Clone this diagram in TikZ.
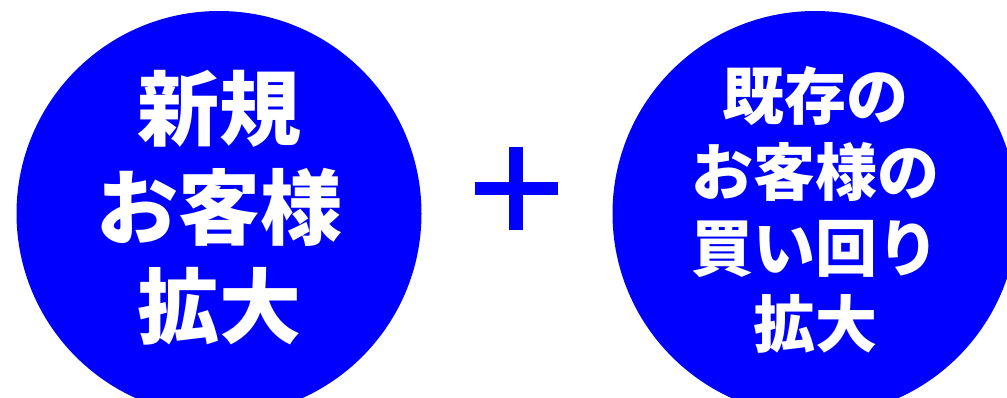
\documentclass[tikz,border=0pt]{standalone}
\usepackage{fontspec}
\newfontfamily\jpfont{Noto Sans CJK JP Black}
\definecolor{ballblue}{RGB}{0,0,255}
\tikzset{
ball/.style={circle,fill=ballblue,minimum size=405pt,inner sep=0pt},
bigtxt/.style={text=white,align=center,font=\jpfont\fontsize{82}{99}\selectfont},
smalltxt/.style={text=white,align=center,font=\jpfont\fontsize{62}{76}\selectfont}
}
\begin{document}
\begin{tikzpicture}[x=1pt,y=-1pt]
\useasboundingbox(0,0)rectangle(1007,397);
\node[ball](newball)at(219,213.5){};
\node[ball](oldball)at(815,213.5){};
\node[bigtxt](newtxt)at(219,208){新規\\お客様\\拡大};
\node[smalltxt](oldtxt)at(815,209.5){既存の\\お客様の\\買い回り\\拡大};
\coordinate(plus)at(516,188.7);
\fill[ballblue]([shift={(-41.5,-6.5)}]plus)rectangle([shift={(41.5,6.5)}]plus);
\fill[ballblue]([shift={(-6.7,-41.7)}]plus)rectangle([shift={(6.7,41.7)}]plus);
\end{tikzpicture}
\end{document}
